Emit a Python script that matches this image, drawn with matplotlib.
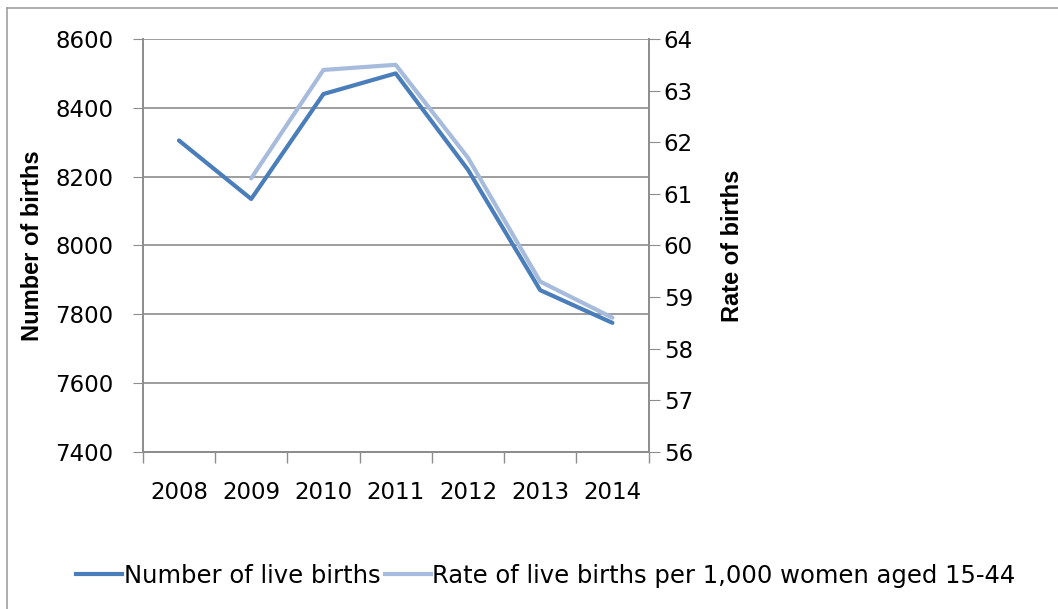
import numpy as np
import matplotlib.pyplot as plt
from matplotlib.lines import Line2D

years = ['2008', '2009', '2010', '2011', '2012', '2013', '2014']
live_births = [8305, 8135, 8440, 8500, 8220, 7870, 7775]
birth_rate = [np.nan, 61.3, 63.4, 63.5, 61.7, 59.3, 58.6]

dark_blue = '#4a7ebb'
light_blue = '#a7bcdc'
grid_grey = '#8c8c8c'


def main():
    plt.rcParams['font.family'] = ['DejaVu Sans']
    fig = plt.figure(figsize=(10.58, 6.09), dpi=100)
    ax = fig.add_axes([0.135, 0.258, 0.478, 0.678])
    ax2 = ax.twinx()

    x = np.arange(len(years))
    ax.plot(x, live_births, color=dark_blue, lw=3.0, solid_capstyle='round', zorder=3)
    ax2.plot(x, birth_rate, color=light_blue, lw=3.0, solid_capstyle='round', zorder=2)

    ax.set_xlim(-0.5, len(years) - 0.5)
    ax.set_ylim(7400, 8600)
    ax.set_yticks(np.arange(7400, 8601, 200))
    ax2.set_ylim(56, 64)
    ax2.set_yticks(np.arange(56, 65, 1))

    # ticks on category boundaries, labels in the middle
    ax.set_xticks(np.arange(-0.5, len(years), 1))
    ax.set_xticklabels([])
    ax.set_xticks(x, minor=True)
    ax.set_xticklabels(years, minor=True)
    ax.tick_params(axis='x', which='major', length=8, color=grid_grey, width=1)
    ax.tick_params(axis='x', which='minor', length=0, pad=21, labelsize=16.5)
    ax.tick_params(axis='y', length=7, color=grid_grey, pad=14, labelsize=16.5)
    ax2.tick_params(axis='y', length=8, color=grid_grey, pad=3, labelsize=16.5)

    ax.grid(axis='y', color=grid_grey, lw=1.2)
    ax.set_axisbelow(True)
    for a in (ax, ax2):
        for side in ('left', 'right', 'bottom'):
            a.spines[side].set_color(grid_grey)
            a.spines[side].set_linewidth(1.2)
        a.spines['top'].set_visible(False)

    ax.set_ylabel('Number of births', fontsize=17, fontweight='bold',
                  family='Liberation Sans', labelpad=8)
    ax2.set_ylabel('Rate of births', fontsize=17, fontweight='bold',
                   family='Liberation Sans', labelpad=20)

    # border of the original chart frame
    fig.add_artist(Line2D([0.007, 0.007], [0.0, 0.987], color='#a0a0a0', lw=1.2))
    fig.add_artist(Line2D([0.007, 1.0], [0.987, 0.987], color='#a0a0a0', lw=1.2))

    handles = [Line2D([], [], color=dark_blue, lw=3.0),
               Line2D([], [], color=light_blue, lw=3.0)]
    fig.legend(handles, ['Number of live births',
                         'Rate of live births per 1,000 women aged 15-44'],
               loc='center', bbox_to_anchor=(0.516, 0.055), ncol=2, frameon=False,
               fontsize=17.5, handlelength=1.9, handletextpad=0.05, columnspacing=0.2)

    fig.savefig('out.png', dpi=100)


if __name__ == '__main__':
    main()
